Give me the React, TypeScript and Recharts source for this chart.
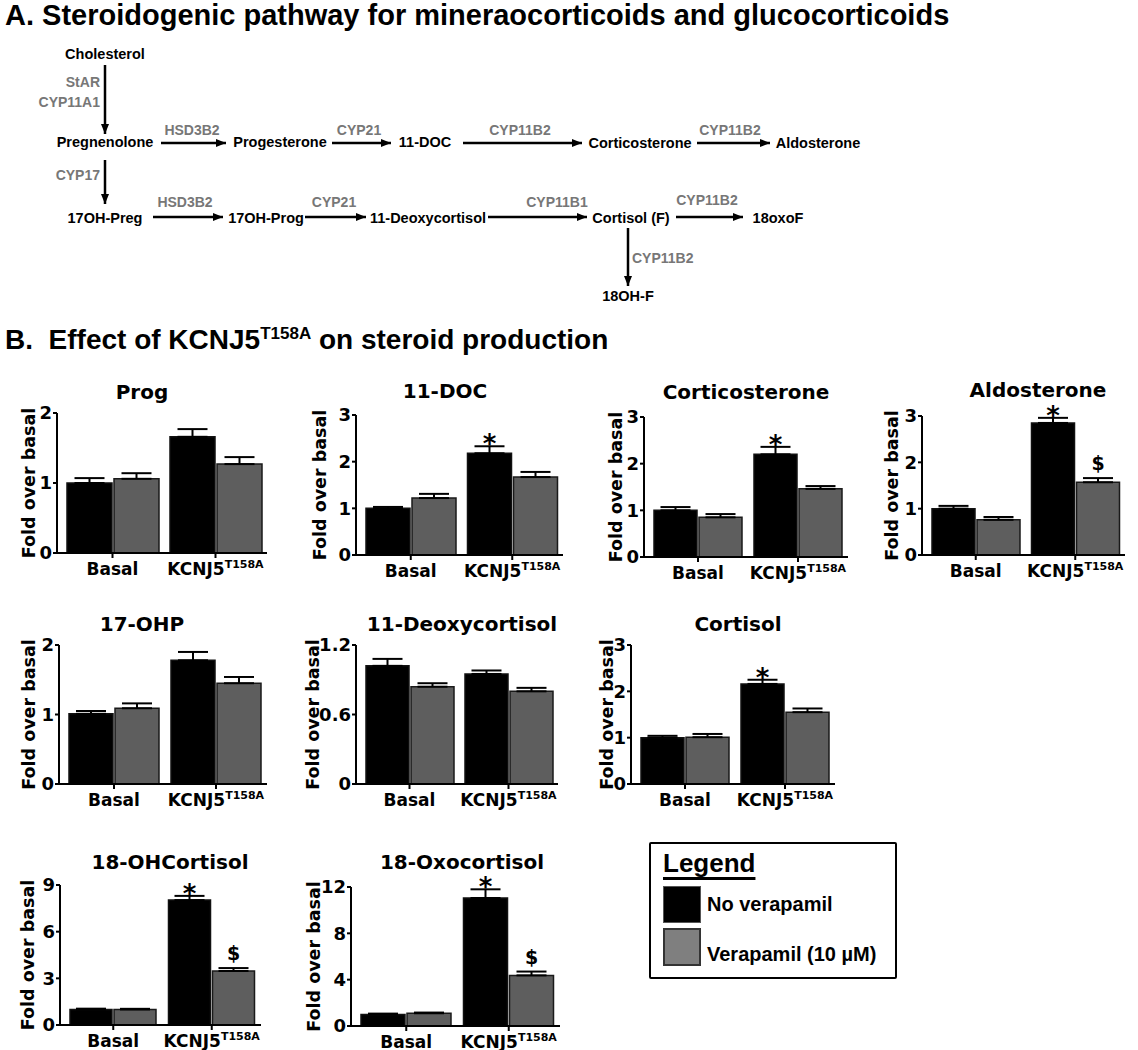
import React from 'react';
import { BarChart, Bar, XAxis, YAxis, ErrorBar, LabelList } from 'recharts';

// groups on the x axis (second one gets the T158A superscript)
const groupNames = ['Basal', 'KCNJ5'];
const groupSup = ['', 'T158A'];

// fold over basal: mean and SEM, no verapamil (black) / verapamil 10 µM (grey)
const progNoVer = [1.0, 1.66];
const progNoVerSem = [0.07, 0.11];
const progVer = [1.06, 1.27];
const progVerSem = [0.08, 0.1];
const progTicks = [0, 1, 2];

const docNoVer = [1.0, 2.18];
const docNoVerSem = [0.03, 0.15];
const docVer = [1.22, 1.67];
const docVerSem = [0.09, 0.11];
const docTicks = [0, 1, 2, 3];

const corticoNoVer = [1.0, 2.2];
const corticoNoVerSem = [0.07, 0.16];
const corticoVer = [0.85, 1.46];
const corticoVerSem = [0.07, 0.06];
const corticoTicks = [0, 1, 2, 3];

const aldoNoVer = [1.0, 2.85];
const aldoNoVerSem = [0.06, 0.11];
const aldoVer = [0.76, 1.57];
const aldoVerSem = [0.06, 0.09];
const aldoTicks = [0, 1, 2, 3];

const ohpNoVer = [1.01, 1.78];
const ohpNoVerSem = [0.04, 0.12];
const ohpVer = [1.09, 1.45];
const ohpVerSem = [0.07, 0.09];
const ohpTicks = [0, 1, 2];

const deoxyNoVer = [1.02, 0.95];
const deoxyNoVerSem = [0.06, 0.03];
const deoxyVer = [0.84, 0.8];
const deoxyVerSem = [0.03, 0.03];
const deoxyTicks = [0, 0.6, 1.2];

const cortisolNoVer = [1.0, 2.16];
const cortisolNoVerSem = [0.04, 0.09];
const cortisolVer = [1.01, 1.55];
const cortisolVerSem = [0.07, 0.08];
const cortisolTicks = [0, 1, 2, 3];

const ohfNoVer = [1.0, 8.03];
const ohfNoVerSem = [0.05, 0.27];
const ohfVer = [1.0, 3.47];
const ohfVerSem = [0.04, 0.19];
const ohfTicks = [0, 3, 6, 9];

const oxoNoVer = [1.0, 11.05];
const oxoNoVerSem = [0.07, 0.75];
const oxoVer = [1.1, 4.37];
const oxoVerSem = [0.06, 0.33];
const oxoTicks = [0, 4, 8, 12];

// significance marks: * vs basal, $ vs no verapamil
const noMarks = ['', ''];
const starMarks = ['', '*'];
const dollarMarks = ['', '$'];

const BLACK = '#000000';
const GREY = '#5e5e5e';
const CHART_FONT = '"DejaVu Sans", sans-serif';
const TEXT_FONT = '"Liberation Sans", Arial, sans-serif';

const YW = 70; // y axis area, holds the rotated title too
const MT = 30;
const MB = 40;
const MR = 6;

const build = (nv: number[], nvs: number[], v: number[], vs: number[], nvm = noMarks, vm = noMarks) =>
  groupNames.map((g, i) => ({
    name: g,
    noVer: nv[i],
    noVerSem: nvs[i],
    ver: v[i],
    verSem: vs[i],
    noVerMark: nvm[i],
    verMark: vm[i],
  }));

const panels = [
  { title: 'Prog', data: build(progNoVer, progNoVerSem, progVer, progVerSem), ticks: progTicks, axisX: 57, topY: 413, plotH: 140, plotW: 210, titleX: 142, titleY: 392, gap: 28 },
  { title: '11-DOC', data: build(docNoVer, docNoVerSem, docVer, docVerSem, starMarks), ticks: docTicks, axisX: 356, topY: 415, plotH: 140, plotW: 207, titleX: 445, titleY: 391, gap: 36 },
  { title: 'Corticosterone', data: build(corticoNoVer, corticoNoVerSem, corticoVer, corticoVerSem, starMarks), ticks: corticoTicks, axisX: 644, topY: 417, plotH: 140, plotW: 204, titleX: 746, titleY: 392, gap: 28 },
  { title: 'Aldosterone', data: build(aldoNoVer, aldoNoVerSem, aldoVer, aldoVerSem, starMarks, dollarMarks), ticks: aldoTicks, axisX: 922, topY: 416, plotH: 139, plotW: 203, titleX: 1038, titleY: 390, gap: 30 },
  { title: '17-OHP', data: build(ohpNoVer, ohpNoVerSem, ohpVer, ohpVerSem), ticks: ohpTicks, axisX: 59, topY: 645, plotH: 139, plotW: 208, titleX: 142, titleY: 624, gap: 30 },
  { title: '11-Deoxycortisol', data: build(deoxyNoVer, deoxyNoVerSem, deoxyVer, deoxyVerSem), ticks: deoxyTicks, axisX: 356, topY: 645, plotH: 139, plotW: 202, titleX: 462, titleY: 624, gap: 43 },
  { title: 'Cortisol', data: build(cortisolNoVer, cortisolNoVerSem, cortisolVer, cortisolVerSem, starMarks), ticks: cortisolTicks, axisX: 631, topY: 645, plotH: 139, plotW: 204, titleX: 738, titleY: 624, gap: 24 },
  { title: '18-OHCortisol', data: build(ohfNoVer, ohfNoVerSem, ohfVer, ohfVerSem, starMarks, dollarMarks), ticks: ohfTicks, axisX: 60, topY: 885, plotH: 140, plotW: 201, titleX: 170, titleY: 862, gap: 32 },
  { title: '18-Oxocortisol', data: build(oxoNoVer, oxoNoVerSem, oxoVer, oxoVerSem, starMarks, dollarMarks), ticks: oxoTicks, axisX: 351, topY: 887, plotH: 139, plotW: 209, titleX: 462, titleY: 862, gap: 37 },
];

const GroupTick = (props: any) => {
  const { x, y, payload, index } = props;
  const sup = groupSup[index] || '';
  return (
    <text x={x} y={Number(y) + 14.5} textAnchor="middle" fill="#000" fontFamily={CHART_FONT} fontWeight={700} fontSize={17}>
      {payload.value}
      {sup && (
        <tspan fontSize={11} dy={-7}>
          {sup}
        </tspan>
      )}
    </text>
  );
};

const YTitle = ({ gap, plotH }: any) => {
  const cx = YW - gap;
  const cy = MT + plotH / 2;
  return (
    <text
      x={cx}
      y={cy}
      transform={`rotate(-90 ${cx} ${cy})`}
      textAnchor="middle"
      dominantBaseline="central"
      fill="#000"
      fontFamily={CHART_FONT}
      fontWeight={700}
      fontSize={17.5}
    >
      Fold over basal
    </text>
  );
};

// puts * or $ above the error bar of a bar
const markLabel = (data: any[], valKey: string, semKey: string) => (props: any) => {
  const { x, y, width, height, value, index } = props;
  if (!value) return null;
  const d = data[index];
  const perUnit = Number(height) / d[valKey];
  const errTop = Number(y) - d[semKey] * perUnit;
  const star = value === '*';
  return (
    <text
      x={Number(x) + Number(width) / 2}
      y={star ? errTop + 7 : errTop - 8}
      textAnchor="middle"
      fill="#000"
      fontFamily={CHART_FONT}
      fontWeight={700}
      fontSize={star ? 26 : 19}
    >
      {value}
    </text>
  );
};

const Panel = ({ p }: { p: (typeof panels)[number] }) => {
  const top = p.ticks[p.ticks.length - 1];
  return (
    <>
      <div style={{ position: 'absolute', left: p.axisX - YW, top: p.topY - MT }}>
        <BarChart
          width={YW + p.plotW + MR}
          height={MT + p.plotH + MB}
          data={p.data}
          margin={{ top: MT, right: MR, left: 0, bottom: 0 }}
          barCategoryGap={6}
          barGap={2}
        >
          <XAxis
            dataKey="name"
            height={MB}
            padding={{ left: 4, right: 0 }}
            axisLine={{ stroke: '#000', strokeWidth: 2 }}
            tickLine={{ stroke: '#000', strokeWidth: 2 }}
            tickSize={5}
            tick={<GroupTick />}
            interval={0}
          />
          <YAxis
            width={YW}
            domain={[0, top]}
            ticks={p.ticks}
            interval={0}
            allowDataOverflow
            axisLine={{ stroke: '#000', strokeWidth: 2 }}
            tickLine={{ stroke: '#000', strokeWidth: 2 }}
            tickSize={4}
            tickMargin={1}
            tick={{ fill: '#000', fontFamily: CHART_FONT, fontWeight: 700, fontSize: 18 }}
            label={<YTitle gap={p.gap} plotH={p.plotH} />}
          />
          <Bar dataKey="noVer" fill={BLACK} stroke="#111" strokeWidth={1.5} isAnimationActive={false}>
            <ErrorBar dataKey={(d: any) => [0, d.noVerSem]} width={15} stroke="#000" strokeWidth={2} />
            <LabelList dataKey="noVerMark" content={markLabel(p.data, 'noVer', 'noVerSem')} />
          </Bar>
          <Bar dataKey="ver" fill={GREY} stroke="#1a1a1a" strokeWidth={1.5} isAnimationActive={false}>
            <ErrorBar dataKey={(d: any) => [0, d.verSem]} width={15} stroke="#000" strokeWidth={2} />
            <LabelList dataKey="verMark" content={markLabel(p.data, 'ver', 'verSem')} />
          </Bar>
        </BarChart>
      </div>
      <div
        style={{
          position: 'absolute',
          left: p.titleX,
          top: p.titleY - 12,
          transform: 'translateX(-50%)',
          whiteSpace: 'nowrap',
          fontFamily: CHART_FONT,
          fontWeight: 700,
          fontSize: 20,
          lineHeight: '24px',
        }}
      >
        {p.title}
      </div>
    </>
  );
};

// pathway diagram (part A)
const nodes = [
  { t: 'Cholesterol', x: 105, y: 54 },
  { t: 'Pregnenolone', x: 105, y: 142 },
  { t: 'Progesterone', x: 280, y: 142 },
  { t: '11-DOC', x: 425, y: 142 },
  { t: 'Corticosterone', x: 640, y: 143 },
  { t: 'Aldosterone', x: 818, y: 143 },
  { t: '17OH-Preg', x: 105, y: 218 },
  { t: '17OH-Prog', x: 266, y: 218 },
  { t: '11-Deoxycortisol', x: 428, y: 218 },
  { t: 'Cortisol (F)', x: 631, y: 218 },
  { t: '18oxoF', x: 778, y: 218 },
  { t: '18OH-F', x: 628, y: 296 },
];

const arrows = [
  [105, 65, 105, 134],
  [161, 143, 226, 143],
  [332, 143, 391, 143],
  [463, 143, 582, 143],
  [697, 143, 770, 143],
  [105, 160, 105, 204],
  [153, 217, 223, 217],
  [305, 217, 366, 217],
  [488, 217, 587, 217],
  [676, 217, 743, 217],
  [628, 228, 628, 286],
];

const enzymes = [
  { t: 'StAR', x: 100, y: 82, a: 'end' },
  { t: 'CYP11A1', x: 100, y: 102, a: 'end' },
  { t: 'HSD3B2', x: 192, y: 130, a: 'middle' },
  { t: 'CYP21', x: 359, y: 130, a: 'middle' },
  { t: 'CYP11B2', x: 520, y: 130, a: 'middle' },
  { t: 'CYP11B2', x: 730, y: 130, a: 'middle' },
  { t: 'CYP17', x: 100, y: 175, a: 'end' },
  { t: 'HSD3B2', x: 185, y: 202, a: 'middle' },
  { t: 'CYP21', x: 334, y: 202, a: 'middle' },
  { t: 'CYP11B1', x: 557, y: 202, a: 'middle' },
  { t: 'CYP11B2', x: 707, y: 200, a: 'middle' },
  { t: 'CYP11B2', x: 632, y: 258, a: 'start' },
];

const Pathway = () => (
  <svg width={1138} height={320} style={{ position: 'absolute', left: 0, top: 0 }}>
    <defs>
      <marker id="ah" markerUnits="userSpaceOnUse" markerWidth={10} markerHeight={8} refX={10} refY={4} orient="auto">
        <path d="M0,0 L10,4 L0,8 z" fill="#000" />
      </marker>
    </defs>
    {arrows.map(([x1, y1, x2, y2], i) => (
      <line key={i} x1={x1} y1={y1} x2={x2} y2={y2} stroke="#000" strokeWidth={2.5} markerEnd="url(#ah)" />
    ))}
    {nodes.map((n, i) => (
      <text key={i} x={n.x} y={n.y} textAnchor="middle" dominantBaseline="central" fontFamily={TEXT_FONT} fontWeight={700} fontSize={14.5} fill="#000">
        {n.t}
      </text>
    ))}
    {enzymes.map((e, i) => (
      <text key={i} x={e.x} y={e.y} textAnchor={e.a as any} dominantBaseline="central" fontFamily={TEXT_FONT} fontWeight={700} fontSize={14} fill="#777">
        {e.t}
      </text>
    ))}
  </svg>
);

const LegendBox = () => (
  <div
    style={{
      position: 'absolute',
      left: 649,
      top: 842,
      width: 248,
      height: 137,
      boxSizing: 'border-box',
      border: '2px solid #000',
      borderRadius: 2,
      fontFamily: TEXT_FONT,
      fontWeight: 700,
    }}
  >
    <div
      style={{
        position: 'absolute',
        left: 12,
        top: 6,
        fontSize: 26,
        lineHeight: '26px',
        textDecoration: 'underline',
        textDecorationThickness: 3,
        textUnderlineOffset: 5,
        textDecorationSkipInk: 'none',
      }}
    >
      Legend
    </div>
    <div style={{ position: 'absolute', left: 12, top: 42, width: 38, height: 37, boxSizing: 'border-box', background: BLACK, border: '1px solid #555' }} />
    <div style={{ position: 'absolute', left: 56, top: 48, fontSize: 20, lineHeight: '24px' }}>No verapamil</div>
    <div style={{ position: 'absolute', left: 12, top: 84, width: 38, height: 38, boxSizing: 'border-box', background: '#7f7f7f', border: '2px solid #333' }} />
    <div style={{ position: 'absolute', left: 56, top: 98, fontSize: 20, lineHeight: '24px' }}>Verapamil (10 µM)</div>
  </div>
);

export default function App() {
  return (
    <div style={{ position: 'absolute', left: 0, top: 0, width: 1138, height: 1050, background: '#fff', color: '#000', overflow: 'hidden' }}>
      <div style={{ position: 'absolute', left: 5, top: 0, fontFamily: TEXT_FONT, fontWeight: 700, fontSize: 29, lineHeight: '30px', whiteSpace: 'nowrap' }}>
        A. Steroidogenic pathway for mineraocorticoids and glucocorticoids
      </div>
      <Pathway />
      <div style={{ position: 'absolute', left: 5, top: 325, fontFamily: TEXT_FONT, fontWeight: 700, fontSize: 28, lineHeight: '30px', whiteSpace: 'pre' }}>
        {'B.  Effect of KCNJ5'}
        <sup style={{ fontSize: 17, lineHeight: 0 }}>T158A</sup>
        {' on steroid production'}
      </div>
      {panels.map((p) => (
        <Panel key={p.title} p={p} />
      ))}
      <LegendBox />
    </div>
  );
}
